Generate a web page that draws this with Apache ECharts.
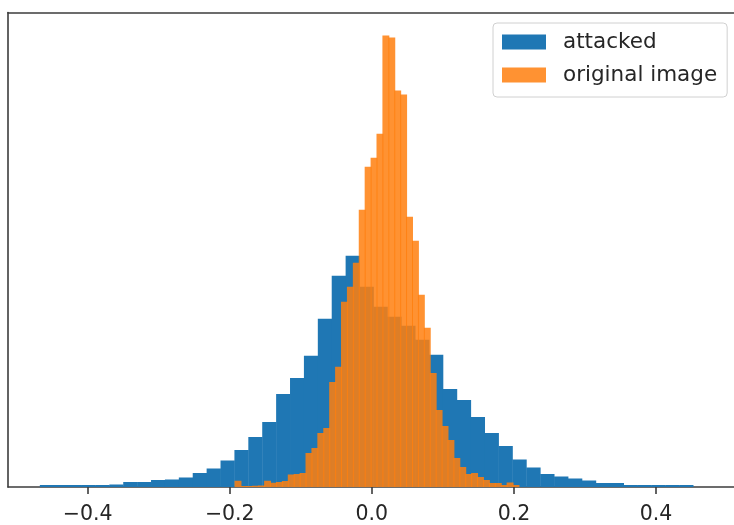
<!DOCTYPE html>
<html>
<head>
<meta charset="utf-8">
<title>attacked vs original image</title>
<script src="https://cdn.jsdelivr.net/npm/echarts@6/dist/echarts.min.js"></script>
<style>
  html, body { margin: 0; padding: 0; background: #fff; }
  #chart { width: 734px; height: 525px; }
</style>
</head>
<body>
<div id="chart"></div>
<script>
// histogram bins: range of the data and the height of each bar
const attackedRange = [-0.4671, 0.4525];
const attackedCounts = [
  2, 2, 2, 2, 2, 2.5, 5, 5, 7, 7.5,
  9.5, 14, 18.5, 26.5, 37, 50, 65, 93, 109, 131,
  168, 211, 231, 200, 180, 170, 161, 147, 132, 98,
  87, 70, 54, 41, 27.5, 19.5, 13, 10.5, 8.5, 6.5,
  4, 4, 2, 2, 2, 2, 2
];

const originalRange = [-0.1926, 0.2071];
const originalCounts = [
  6.3, 1, 1, 1.3, 1.5, 6.3, 4.3, 5, 6, 12.5,
  13, 14, 34, 39, 54, 59, 105, 120, 185, 200,
  224, 277, 320, 329, 353, 451, 449, 396, 392, 270,
  246, 192, 159, 114, 77, 61, 47, 29, 20, 13,
  14, 10, 7, 4, 4, 2, 4.5, 2
];

const xTicks = [-0.4, -0.2, 0, 0.2, 0.4];
const xMin = -0.5122;
const xMax = 0.5098;
const yMax = 474;

const FONT = "DejaVu Sans";
const BLUE = "#1f77b4";
const ORANGE = "rgba(255,127,14,0.85)";

const chart = echarts.init(document.getElementById("chart"));

function toBins(range, counts) {
  const step = (range[1] - range[0]) / counts.length;
  return counts.map((c, i) => [range[0] + i * step, range[0] + (i + 1) * step, c]);
}

function binRenderer(color, pad) {
  return function (params, api) {
    const top = api.coord([api.value(0), api.value(2)]);
    const bottom = api.coord([api.value(1), 0]);
    return {
      type: "rect",
      shape: {
        x: top[0] - pad,
        y: top[1],
        width: bottom[0] - top[0] + pad * 2,
        height: bottom[1] - top[1]
      },
      style: { fill: color }
    };
  };
}

function tickLabel(value) {
  const s = Math.abs(value).toFixed(1);
  return value < 0 ? "\u2212" + s : s;
}

const spine = { show: true, onZero: false, lineStyle: { color: "#3c3c3c", width: 1.6 } };

chart.setOption({
  animation: false,
  grid: { left: 8, top: 12.5, right: 0, bottom: 37 },
  legend: {
    data: ["attacked", "original image"],
    orient: "vertical",
    left: 493,
    top: 23,
    icon: "rect",
    itemWidth: 44,
    itemHeight: 15,
    itemGap: 11,
    padding: [8, 10, 11, 9],
    backgroundColor: "rgba(255,255,255,0.8)",
    borderColor: "#d0d0d0",
    borderWidth: 1,
    borderRadius: 4,
    selectedMode: false,
    textStyle: {
      fontFamily: FONT,
      fontSize: 21.5,
      color: "#262626",
      padding: [0, 0, 0, 12]
    }
  },
  xAxis: [
    {
      type: "value",
      min: xMin,
      max: xMax,
      axisLine: spine,
      splitLine: { show: false },
      axisTick: {
        show: true,
        length: 7,
        customValues: xTicks,
        lineStyle: { color: "#3c3c3c", width: 1.6 }
      },
      axisLabel: {
        customValues: xTicks,
        formatter: tickLabel,
        margin: 17,
        fontFamily: FONT,
        fontSize: 20.5,
        color: "#262626"
      }
    },
    {
      type: "value",
      position: "top",
      min: xMin,
      max: xMax,
      axisLine: spine,
      axisTick: { show: false },
      axisLabel: { show: false },
      splitLine: { show: false }
    }
  ],
  yAxis: {
    type: "value",
    min: 0,
    max: yMax,
    axisLine: spine,
    axisTick: { show: false },
    axisLabel: { show: false },
    splitLine: { show: false }
  },
  series: [
    {
      name: "attacked",
      type: "custom",
      clip: true,
      itemStyle: { color: BLUE },
      renderItem: binRenderer(BLUE, 0.2),
      encode: { x: [0, 1], y: 2 },
      data: toBins(attackedRange, attackedCounts)
    },
    {
      name: "original image",
      type: "custom",
      clip: true,
      itemStyle: { color: ORANGE },
      renderItem: binRenderer(ORANGE, 0.5),
      encode: { x: [0, 1], y: 2 },
      data: toBins(originalRange, originalCounts)
    }
  ]
});

window.addEventListener("resize", () => chart.resize());
</script>
</body>
</html>
